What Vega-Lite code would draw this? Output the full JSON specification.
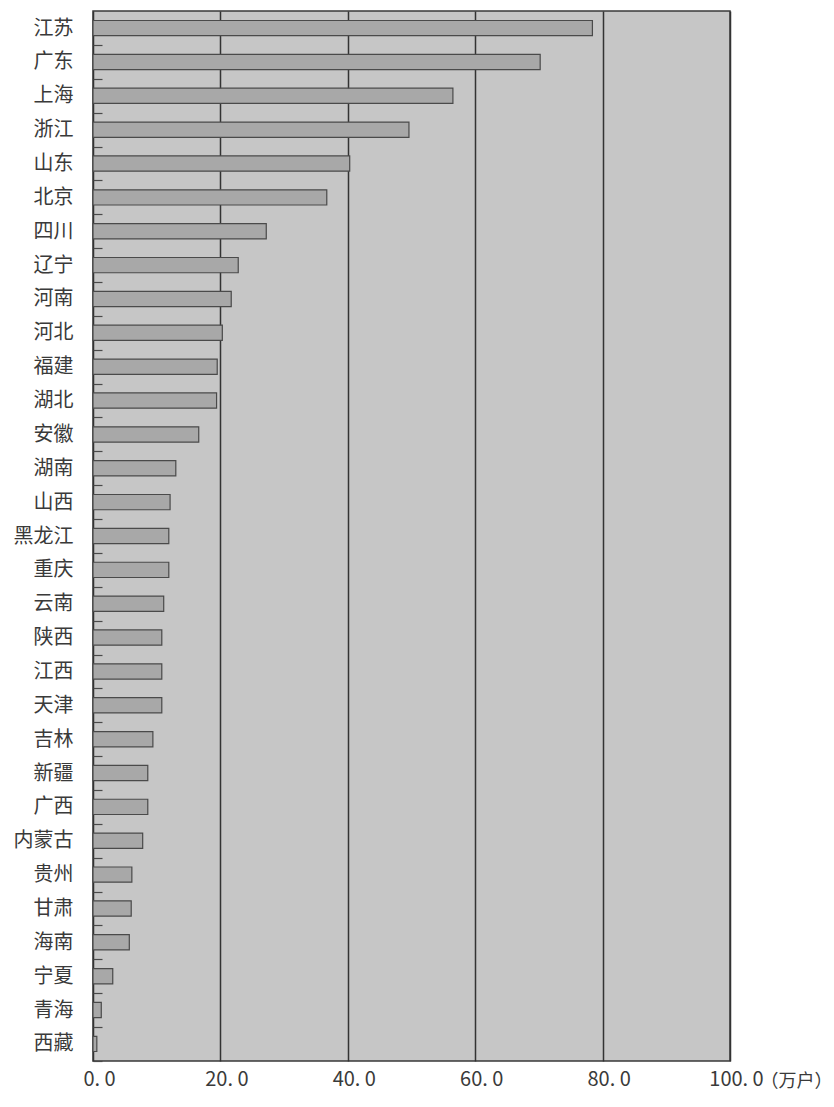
{
  "$schema": "https://vega.github.io/schema/vega-lite/v6.json",
  "width": 637,
  "height": 1050,
  "autosize": {"type": "none"},
  "padding": {"left": 93, "top": 11, "right": 104, "bottom": 46},
  "background": "#ffffff",
  "config": {
    "view": {"fill": "#c6c6c6", "stroke": "#3a3a3a", "strokeWidth": 1.5},
    "font": "Noto Sans CJK SC"
  },
  "data": {
    "values": [
      {"province": "江苏", "value": 78.4},
      {"province": "广东", "value": 70.2},
      {"province": "上海", "value": 56.5},
      {"province": "浙江", "value": 49.6},
      {"province": "山东", "value": 40.3},
      {"province": "北京", "value": 36.7},
      {"province": "四川", "value": 27.2},
      {"province": "辽宁", "value": 22.8},
      {"province": "河南", "value": 21.7},
      {"province": "河北", "value": 20.3},
      {"province": "福建", "value": 19.5},
      {"province": "湖北", "value": 19.4},
      {"province": "安徽", "value": 16.6},
      {"province": "湖南", "value": 13.0},
      {"province": "山西", "value": 12.1},
      {"province": "黑龙江", "value": 11.9},
      {"province": "重庆", "value": 11.9},
      {"province": "云南", "value": 11.1},
      {"province": "陕西", "value": 10.8},
      {"province": "江西", "value": 10.8},
      {"province": "天津", "value": 10.8},
      {"province": "吉林", "value": 9.4},
      {"province": "新疆", "value": 8.6},
      {"province": "广西", "value": 8.6},
      {"province": "内蒙古", "value": 7.8},
      {"province": "贵州", "value": 6.1},
      {"province": "甘肃", "value": 6.0},
      {"province": "海南", "value": 5.7},
      {"province": "宁夏", "value": 3.1},
      {"province": "青海", "value": 1.3},
      {"province": "西藏", "value": 0.6}
    ]
  },
  "mark": {"type": "bar", "fill": "#a8a8a8", "stroke": "#4a4a4a", "strokeWidth": 1.2},
  "encoding": {
    "y": {
      "field": "province",
      "type": "nominal",
      "sort": null,
      "scale": {"paddingInner": 0.55, "paddingOuter": 0.28},
      "axis": {
        "title": null,
        "domain": false,
        "ticks": true,
        "tickOffset": 16.94,
        "labelOffset": -16.94,
        "tickSize": -9,
        "tickColor": "#4a4a4a",
        "tickWidth": 1.2,
        "labelFontSize": 20,
        "labelColor": "#3a3a3a",
        "labelPadding": 29,
        "grid": false
      }
    },
    "x": {
      "field": "value",
      "type": "quantitative",
      "scale": {"domain": [0, 100], "nice": false, "zero": true},
      "axis": {
        "values": [0, 20, 40, 60, 80, 100],
        "labelExpr": "replace(format(datum.value, '.1f'), '.', '. ')",
        "labelFlush": false,
        "labelFontSize": 20,
        "labelColor": "#3a3a3a",
        "labelOffset": 6,
        "labelPadding": 8,
        "ticks": false,
        "domain": false,
        "grid": true,
        "gridColor": "#333333",
        "gridWidth": 1.5,
        "gridOpacity": 1,
        "title": "（万户）",
        "titleFontSize": 18,
        "titleFontWeight": "normal",
        "titleColor": "#3a3a3a",
        "titleX": 703,
        "titleY": 20,
        "titleAlign": "center",
        "titleBaseline": "middle"
      }
    }
  }
}
